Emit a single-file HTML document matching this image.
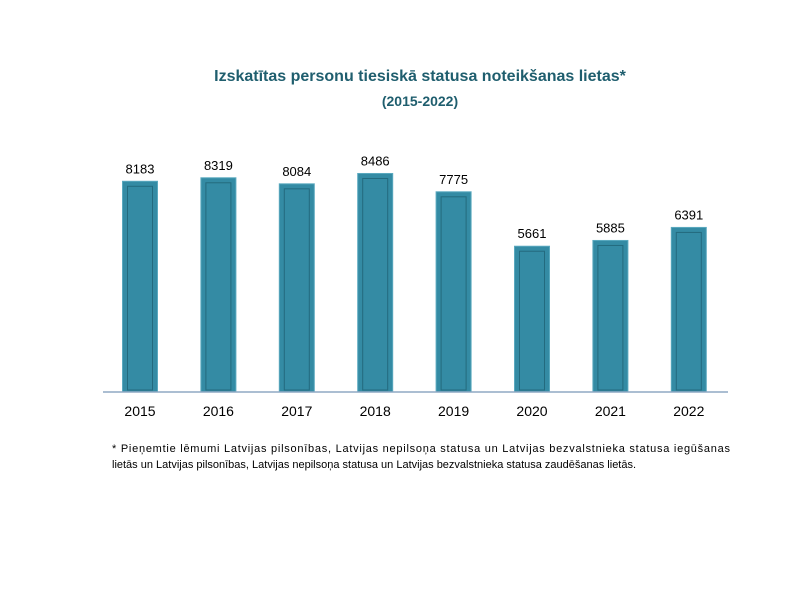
<!DOCTYPE html>
<html><head><meta charset="utf-8"><style>
body{margin:0;background:#fff;width:800px;height:600px;overflow:hidden;font-family:"Liberation Sans",sans-serif}
</style></head><body>
<svg width="800" height="600">
<text x="420" y="81" text-anchor="middle" font-size="16" font-weight="bold" fill="#1f5e6e">Izskatītas personu tiesiskā statusa noteikšanas lietas*</text>
<text x="420" y="106" text-anchor="middle" font-size="14" font-weight="bold" fill="#1f5e6e">(2015-2022)</text>
<g id="bars"></g>
<line x1="103" y1="392" x2="728" y2="392" stroke="#8fa9c4" stroke-width="1.5"/>
<text font-size="11" fill="#000">
<tspan x="112" y="452" textLength="618" lengthAdjust="spacing">*  Pieņemtie lēmumi Latvijas pilsonības, Latvijas nepilsoņa statusa un Latvijas bezvalstnieka statusa iegūšanas</tspan>
<tspan x="112" y="468">lietās un Latvijas pilsonības, Latvijas nepilsoņa statusa un Latvijas bezvalstnieka statusa zaudēšanas lietās.</tspan>
</text>
</svg>
<script>
const categories=["2015","2016","2017","2018","2019","2020","2021","2022"];
const values=[8183,8319,8084,8486,7775,5661,5885,6391];
const ns="http://www.w3.org/2000/svg";
const g=document.getElementById("bars");
const x0=140,step=78.4,base=392,k=0.02575,bw=35;
const xs=i=>x0+i*step, ys=v=>base-v*k;
function mk(t,a){const e=document.createElementNS(ns,t);for(const n in a)e.setAttribute(n,a[n]);g.appendChild(e);return e;}
categories.forEach((c,i)=>{
 const cx=xs(i),top=ys(values[i]);
 const r=mk("rect",{x:cx-bw/2,y:top,width:bw,height:base-top,fill:"#348ba4",stroke:"#5aa9bf","stroke-width":1});
 
 
 const inner=mk("rect",{x:cx-bw/2+5,y:top+5,width:bw-10,height:base-top-7,fill:"none",stroke:"#1d5d6e","stroke-width":1,opacity:0.7});
 
 
 const vl=mk("text",{x:cx,y:top-8,"text-anchor":"middle","font-size":13,fill:"#000"});
 vl.textContent=values[i];
 
 
 const xl=mk("text",{x:cx,y:416,"text-anchor":"middle","font-size":14,fill:"#000"});
 xl.textContent=c;
 
 
});
</script>
</body></html>
